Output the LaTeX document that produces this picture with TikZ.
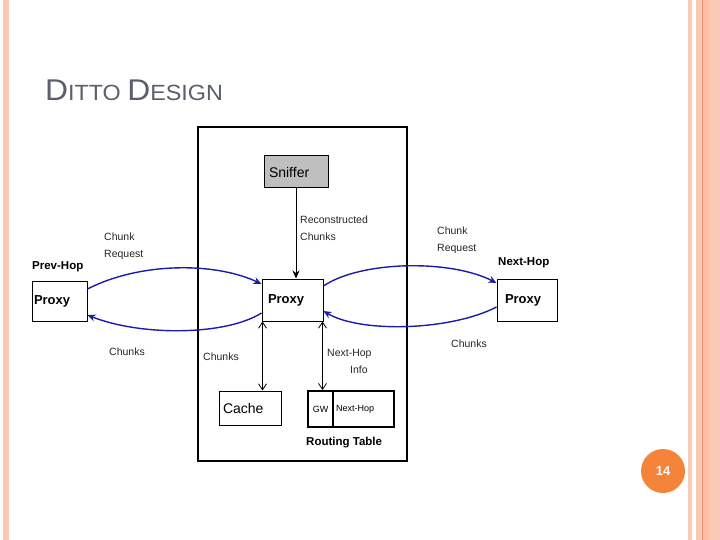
\documentclass[tikz,border=0pt]{standalone}
\usepackage{fontspec}
\setmainfont{Liberation Sans}
\usetikzlibrary{arrows.meta}
\definecolor{peach}{HTML}{F9C9B5}
\definecolor{peachdark}{HTML}{FCBFA6}
\definecolor{peachline}{HTML}{E39266}
\definecolor{titlegray}{HTML}{5B5F6B}
\definecolor{flowblue}{HTML}{1C1CA8}
\definecolor{pageorange}{HTML}{F5833A}
\tikzset{
  box/.style={draw, line width=1pt, align=left, inner ysep=0pt},
  boxlabel/.style={font=\fontsize{13}{13}\selectfont\bfseries},
  lbl/.style={font=\fontsize{10.5}{17}\selectfont, text=black!85, align=left, anchor=west, inner sep=0pt},
  hop/.style={font=\fontsize{11.5}{12}\selectfont\bfseries, anchor=west, inner sep=0pt},
  flow/.style={draw=flowblue, line width=1.4pt, -{Stealth[length=8pt,width=7pt]}},
  blk/.style={line width=0.8pt},
  dbl/.style={blk, {Straight Barb[length=6pt,width=8pt]}-{Straight Barb[length=6pt,width=8pt]}}
}
\begin{document}
\begin{tikzpicture}[x=1pt,y=-1pt]
\useasboundingbox (0,0) rectangle (720,540);
\fill[white] (0,0) rectangle (720,540);
% side stripes
\fill[peach] (3,0) rectangle (9,540);
\fill[peach] (688,0) rectangle (692,540);
\fill[peach] (696,0) rectangle (720,540);
\fill[peachdark] (703,0) rectangle (709,540);
\draw[peachline, line width=1pt] (702.5,0) -- (702.5,540);
% title
\node[anchor=base west, inner sep=0pt, text=titlegray, xscale=1.06] (title) at (45,101)
  {\fontsize{30}{30}\selectfont D\fontsize{22}{22}\selectfont ITTO \fontsize{30}{30}\selectfont D\fontsize{22}{22}\selectfont ESIGN};
% outer box
\node[draw, line width=1.2pt, minimum width=209pt, minimum height=334pt, inner sep=0pt] (outer) at (302.5,294) {};
% boxes
\node[box, fill=black!25, font=\fontsize{14}{14}\selectfont, inner xsep=5pt, text width=54pt, minimum height=32pt] (sniffer) at (296,172) {Sniffer};
\node[box, boxlabel, inner xsep=6pt, text width=49pt, minimum height=42pt] (proxy) at (292.5,300) {Proxy};
\node[box, boxlabel, inner xsep=2pt, text width=51pt, minimum height=40pt] (prev) at (59.5,301) {Proxy};
\node[box, boxlabel, inner xsep=8pt, text width=44pt, minimum height=42pt] (next) at (527,300) {Proxy};
\node[box, font=\fontsize{14}{14}\selectfont, inner xsep=4pt, text width=54pt, minimum height=34pt] (cache) at (250,408) {Cache};
\node[draw, line width=1.8pt, font=\fontsize{9}{9}\selectfont, minimum width=25pt, minimum height=36pt, inner sep=0pt] (gw) at (320.5,409) {GW};
\node[draw, line width=1.8pt, font=\fontsize{9}{9}\selectfont, align=left, inner xsep=3pt, inner ysep=0pt, text width=55pt, minimum height=36pt] (nh) at (363.5,409) {Next-Hop};
\node[hop, anchor=base west] (rt) at (306,445) {Routing Table};
% hop labels
\node[hop] (prevhop) at (32,267) {Prev-Hop};
\node[hop] (nexthop) at (498,263) {Next-Hop};
% labels
\node[lbl] (lreq) at (104,246) {Chunk\\Request};
\node[lbl] (lchunks) at (109,352) {Chunks};
\node[lbl] (recon) at (300,228) {Reconstructed\\Chunks};
\node[lbl] (cchunks) at (203,357) {Chunks};
\node[lbl] (nhinfo) at (327,361) {Next-Hop\\\hspace*{23pt}Info};
\node[lbl] (rreq) at (437,240) {Chunk\\Request};
\node[lbl] (rchunks) at (451,344) {Chunks};
% black arrows
\draw[blk, -{Stealth[length=8pt,width=7pt]}] (sniffer.south) -- (sniffer.south |- proxy.north);
\draw[dbl] ([xshift=1pt]proxy.south west) -- ([xshift=1pt]proxy.south west |- cache.north);
\draw[dbl] ([xshift=-1pt]proxy.south east) -- ([xshift=-1pt]proxy.south east |- gw.north);
% blue flows
\draw[flow] ([yshift=12pt]prev.east) .. controls (140,262) and (215,262) .. ([yshift=16pt]proxy.west);
\draw[flow] ([yshift=-13pt]proxy.west) .. controls (225,336) and (140,336) .. ([yshift=-14pt]prev.east);
\draw[flow] ([yshift=14pt]proxy.east) .. controls (360,261) and (450,259) .. ([yshift=17pt]next.west);
\draw[flow] ([yshift=-7pt]next.west) .. controls (450,331) and (360,333) .. ([yshift=-11pt]proxy.east);
% page number
\node[circle, fill=pageorange, minimum size=44pt, inner sep=0pt, text=white, font=\fontsize{13}{13}\selectfont\bfseries] (page) at (663,471) {14};
\end{tikzpicture}
\end{document}
